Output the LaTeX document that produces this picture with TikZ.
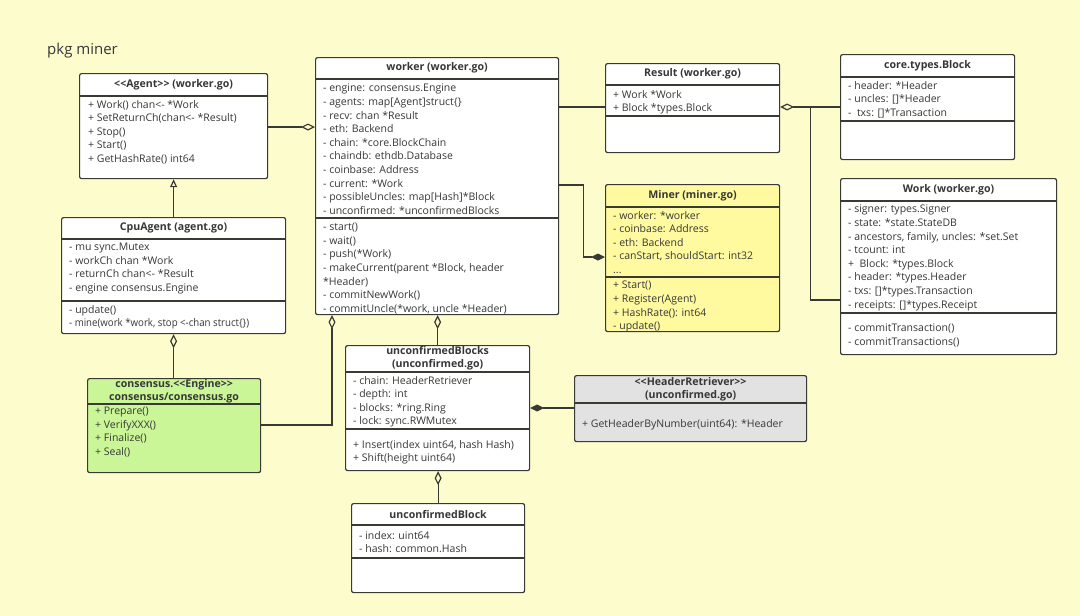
\documentclass[tikz,border=0pt]{standalone}
\usepackage{fontspec}
\usepackage{graphicx}
\setmainfont{Open Sans}
\usetikzlibrary{arrows.meta,calc,positioning}

\definecolor{pagebg}{RGB}{253,252,205}
\definecolor{minerfill}{RGB}{255,250,160}
\definecolor{enginefill}{RGB}{202,246,152}
\definecolor{retrfill}{RGB}{226,226,226}
\definecolor{umlline}{RGB}{58,58,52}
\definecolor{umltext}{RGB}{55,55,55}

\tikzset{
  umlclass/.style={draw=umlline, line width=1.2pt, rounded corners=2pt, fill=white,
    anchor=north west, inner sep=0pt},
  umltitle/.style={font=\fontsize{10.6}{13.4}\selectfont\bfseries, text=umltext,
    align=center, inner sep=0pt},
  umlmembers/.style={font=\fontsize{10.5}{13.6}\selectfont, text=umltext, align=left,
    anchor=north west, inner sep=0pt},
  assoc/.style={draw=umlline, line width=1.2pt},
  aggr/.style={assoc, {Diamond[open,length=14pt,width=7pt]}-},
  compo/.style={assoc, {Diamond[length=14pt,width=7pt]}-},
  inherit/.style={assoc, -{Triangle[open,length=8pt,width=7pt]}},
}

% divider line inside a class box, #2 below its top edge
\newcommand{\classline}[2]{%
  \draw[umlline, line width=1.2pt] ($(#1.north west)+(0,#2)$) -- ($(#1.north east)+(0,#2)$);}
% guillemets written as two angle brackets
\newcommand{\stereo}[1]{<\kern0pt<#1>\kern0pt>}

\begin{document}
\begin{tikzpicture}[x=1pt,y=-1pt]
  \fill[pagebg] (0,0) rectangle (1080,616);
  \useasboundingbox (0,0) rectangle (1080,616);
  \node[anchor=west, inner sep=0pt, text=umltext, font=\fontsize{15}{18}\selectfont] (pkg) at (47,51) {pkg miner};
  %
  % class boxes
  \node[umlclass, minimum width=188pt, minimum height=105pt] (agent) at (79,73) {};
  \node[umlclass, minimum width=243pt, minimum height=257pt] (worker) at (315,57) {};
  \node[umlclass, minimum width=174pt, minimum height=89pt] (result) at (605,63) {};
  \node[umlclass, minimum width=174pt, minimum height=105pt] (block) at (840,54) {};
  \node[umlclass, minimum width=216pt, minimum height=176pt] (work) at (840,178) {};
  \node[umlclass, fill=minerfill, minimum width=174pt, minimum height=147pt] (miner) at (605,184) {};
  \node[umlclass, minimum width=224pt, minimum height=116pt] (cpuagent) at (61,217) {};
  \node[umlclass, fill=enginefill, minimum width=173pt, minimum height=94pt] (engine) at (87,378) {};
  \node[umlclass, minimum width=184pt, minimum height=125pt] (ublocks) at (345,345) {};
  \node[umlclass, fill=retrfill, minimum width=232pt, minimum height=66pt] (hretriever) at (574,375) {};
  \node[umlclass, minimum width=173pt, minimum height=89pt] (ublock) at (351,503) {};
  %
  % compartments
  \classline{agent}{23}
  \classline{worker}{22} \classline{worker}{161}
  \classline{result}{22} \classline{result}{53}
  \classline{block}{23} \classline{block}{67}
  \classline{work}{23} \classline{work}{135}
  \classline{miner}{23} \classline{miner}{93}
  \classline{cpuagent}{22} \classline{cpuagent}{84}
  \classline{engine}{26}
  \classline{ublocks}{27} \classline{ublocks}{84}
  \classline{hretriever}{28}
  \classline{ublock}{22} \classline{ublock}{55}
  %
  % titles
  \node[umltitle] (agent-t) at ($(agent.north)+(0,11.5)$) {\stereo{Agent} (worker.go)};
  \node[umltitle] (worker-t) at ($(worker.north)+(0,11)$) {worker (worker.go)};
  \node[umltitle] (result-t) at ($(result.north)+(0,11)$) {Result (worker.go)};
  \node[umltitle] (block-t) at ($(block.north)+(0,11.5)$) {core.types.Block};
  \node[umltitle] (work-t) at ($(work.north)+(0,11.5)$) {Work (worker.go)};
  \node[umltitle] (miner-t) at ($(miner.north)+(0,11.5)$) {Miner (miner.go)};
  \node[umltitle] (cpuagent-t) at ($(cpuagent.north)+(0,11)$) {CpuAgent (agent.go)};
  \node[umltitle] (engine-t) at ($(engine.north)+(0,13)$) {consensus.\stereo{Engine}\\consensus/consensus.go};
  \node[umltitle] (ublocks-t) at ($(ublocks.north)+(0,13.5)$) {unconfirmedBlocks\\(unconfirmed.go)};
  \node[umltitle] (hretriever-t) at ($(hretriever.north)+(0,14)$) {\stereo{HeaderRetriever}\\(unconfirmed.go)};
  \node[umltitle] (ublock-t) at ($(ublock.north)+(0,11)$) {unconfirmedBlock};
  %
  % members
  \node[umlmembers] (agent-m) at ($(agent.north west)+(9,27)$) {+ Work() chan<- *Work\\+ SetReturnCh(chan<- *Result)\\+ Stop()\\+ Start()\\+ GetHashRate() int64};
  \node[umlmembers] (worker-a) at ($(worker.north west)+(8,27)$) {- engine: consensus.Engine\\- agents: map[Agent]struct\{\}\\- recv: chan *Result\\- eth: Backend\\- chain: *core.BlockChain\\- chaindb: ethdb.Database\\- coinbase: Address\\- current: *Work\\- possibleUncles: map[Hash]*Block\\- unconfirmed: *unconfirmedBlocks};
  \node[umlmembers] (worker-m) at ($(worker.north west)+(8,166)$) {- start()\\- wait()\\- push(*Work)\\- makeCurrent(parent *Block, header\\*Header)\\- commitNewWork()\\- commitUncle(*work, uncle *Header)};
  \node[umlmembers] (result-a) at ($(result.north west)+(8,27)$) {+ Work *Work\\+ Block *types.Block};
  \node[umlmembers] (block-a) at ($(block.north west)+(8,27)$) {- header: *Header\\- uncles: []*Header\\-\ \ txs: []*Transaction};
  \node[umlmembers] (work-a) at ($(work.north west)+(8,27)$) {- signer: types.Signer\\- state: *state.StateDB\\- ancestors, family, uncles: *set.Set\\- tcount: int\\+\ \ Block: *types.Block\\- header: *types.Header\\- txs: []*types.Transaction\\- receipts: []*types.Receipt};
  \node[umlmembers] (work-m) at ($(work.north west)+(8,146)$) {- commitTransaction()\\- commitTransactions()};
  \node[umlmembers] (miner-a) at ($(miner.north west)+(8,27)$) {- worker: *worker\\- coinbase: Address\\- eth: Backend\\- canStart, shouldStart: int32\\...};
  \node[umlmembers] (miner-m) at ($(miner.north west)+(8,97)$) {+ Start()\\+ Register(Agent)\\+ HashRate(): int64\\- update()};
  \node[umlmembers] (cpuagent-a) at ($(cpuagent.north west)+(8,26)$) {- mu sync.Mutex\\- workCh chan *Work\\- returnCh chan<- *Result\\- engine consensus.Engine};
  \node[umlmembers] (cpuagent-m) at ($(cpuagent.north west)+(8,88)$) {- update()\\\scalebox{0.92}[1]{- mine(work *work, stop <-chan struct\{\})}};
  \node[umlmembers] (engine-m) at ($(engine.north west)+(8,29)$) {+ Prepare()\\+ VerifyXXX()\\+ Finalize()\\+ Seal()};
  \node[umlmembers] (ublocks-a) at ($(ublocks.north west)+(8,31)$) {- chain: HeaderRetriever\\- depth: int\\- blocks: *ring.Ring\\- lock: sync.RWMutex};
  \node[umlmembers] (ublocks-m) at ($(ublocks.north west)+(8,95)$) {+ Insert(index uint64, hash Hash)\\+ Shift(height uint64)};
  \node[umlmembers] (hretriever-m) at ($(hretriever.north west)+(8,44)$) {+ GetHeaderByNumber(uint64): *Header};
  \node[umlmembers] (ublock-a) at ($(ublock.north west)+(8,28)$) {- index: uint64\\- hash: common.Hash};
  %
  % relations
  \draw[aggr] (worker.west |- 0,127) -- (agent.east |- 0,127);
  \draw[inherit] (cpuagent.north) -- (agent.south);
  \draw[aggr] (cpuagent.south) -- (cpuagent.south |- engine.north);
  \draw[aggr] (worker.south -| 332,0) |- (engine.east |- 0,425);
  \draw[aggr] (ublocks.north |- worker.south) -- (ublocks.north);
  \draw[assoc] (worker.east |- 0,107) -- (result.west |- 0,107);
  \draw[compo] (miner.west |- 0,257) -| ($(worker.east |- 0,185)+(24,0)$) -- (worker.east |- 0,185);
  \draw[aggr] (result.east |- 0,107) -- (block.west |- 0,107);
  \coordinate (rsplit) at ($(result.east |- 0,107)+(30,0)$);
  \draw[assoc] (rsplit) |- (work.west |- 0,300);
  \draw[compo] (ublocks.east |- 0,408) -- (hretriever.west |- 0,408);
  \draw[aggr] (ublock.north |- ublocks.south) -- (ublock.north);
\end{tikzpicture}
\end{document}
